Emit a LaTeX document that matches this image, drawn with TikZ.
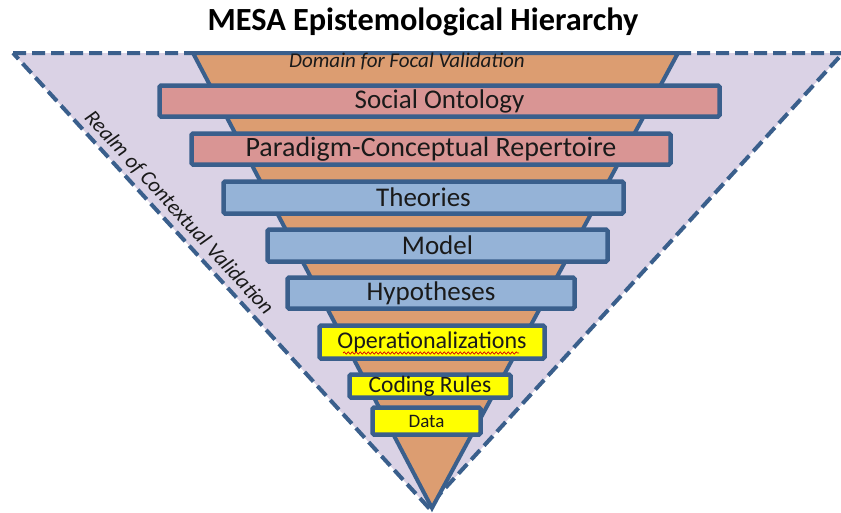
\documentclass[tikz,border=0pt]{standalone}
\usepackage{fontspec}
\setmainfont{Carlito}
\usetikzlibrary{decorations.pathmorphing}
\definecolor{edgeblue}{HTML}{3A5F8C}
\definecolor{realmfill}{HTML}{DAD2E5}
\definecolor{funnelfill}{HTML}{DC9D71}
\definecolor{pinkfill}{HTML}{D99594}
\definecolor{bluefill}{HTML}{95B3D7}
\definecolor{yellowfill}{HTML}{FFFF00}
\definecolor{inktext}{HTML}{1A1A1A}
\tikzset{
  x=1pt, y=-1pt,
  realm/.style={draw=edgeblue, line width=4pt, dash pattern=on 13pt off 6pt, fill=realmfill},
  funnel/.style={draw=edgeblue, line width=4pt, fill=funnelfill, line join=miter},
  bar/.style={draw=edgeblue, line width=4.5pt, rounded corners=1.5pt, rectangle,
    inner sep=0pt, text=inktext, font=\fontsize{27}{27}\selectfont},
  pinkbar/.style={bar, fill=pinkfill},
  bluebar/.style={bar, fill=bluefill},
  yellowbar/.style={bar, fill=yellowfill},
}
\begin{document}
\begin{tikzpicture}
\useasboundingbox (0,0) rectangle (841,512);

% title
\node[font=\fontsize{32.3}{32.3}\selectfont\bfseries, text=black] (title) at (423,22) {MESA Epistemological Hierarchy};

% outer realm (dashed inverted triangle)
\coordinate (rtl) at (13,53);
\coordinate (rtr) at (843,53);
\coordinate (rap) at (428,507);
\fill[realmfill] (rtl) -- (rtr) -- (rap) -- cycle;
\draw[realm, fill=none] (rtl) -- (rtr) -- (rap) -- cycle;

% inner focal funnel
\coordinate (ftl) at (193,53);
\coordinate (ftr) at (678,53);
\coordinate (fap) at (432,508);
\draw[funnel] (ftl) -- (ftr) -- (fap) -- cycle;

\node[font=\fontsize{21}{21}\selectfont\itshape, text=inktext] (domain) at (407,61) {Domain for Focal Validation};

\node[font=\fontsize{21.5}{21.5}\selectfont\itshape, text=inktext, rotate=-47.5] (realmlabel) at (179,213) {Realm of Contextual Validation};

% levels of the hierarchy
\node[pinkbar, minimum width=560pt, minimum height=31pt] (social) at (439.5,101) {Social Ontology};
\node[pinkbar, minimum width=479pt, minimum height=31pt, font=\fontsize{28}{28}\selectfont] (paradigm) at (431,149) {Paradigm-Conceptual Repertoire};
\node[bluebar, minimum width=400pt, minimum height=32pt] (theories) at (423.5,197.5) {Theories};
\node[bluebar, minimum width=340pt, minimum height=32pt] (model) at (437.5,245.5) {Model};
\node[bluebar, minimum width=287pt, minimum height=31pt] (hypo) at (431,293) {Hypotheses};
\node[yellowbar, minimum width=225pt, minimum height=33pt, font=\fontsize{24}{24}\selectfont] (ops) at (432,342) {Operationalizations};
\node[yellowbar, minimum width=161pt, minimum height=23pt, font=\fontsize{23.5}{23.5}\selectfont] (coding) at (430,386) {Coding Rules};
\node[yellowbar, minimum width=108pt, minimum height=27pt, font=\fontsize{19}{19}\selectfont] (data) at (426.5,421) {Data};

% red wavy underline beneath the long word
\draw[red!85!black, line width=0.7pt, decorate, decoration={snake, amplitude=1.1pt, segment length=4pt}]
  (343,353) -- (519,353);
\end{tikzpicture}
\end{document}
